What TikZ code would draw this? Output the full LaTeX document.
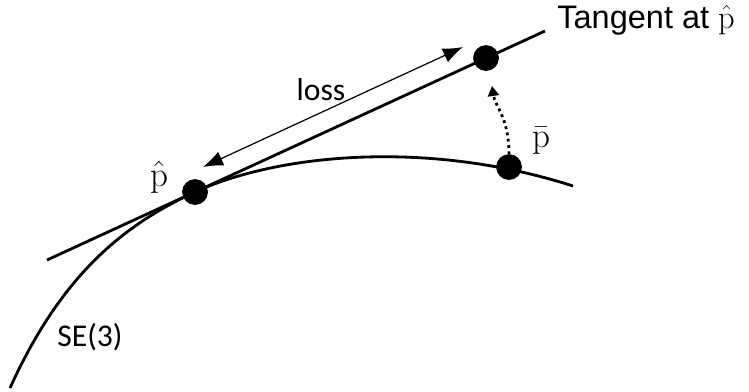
\documentclass[tikz,border=0pt]{standalone}
\usepackage{fontspec}
\newfontfamily\calibri{Carlito}
\newfontfamily\arial{Liberation Sans}
\usetikzlibrary{arrows.meta}

\tikzset{
	dot/.style={draw, circle, fill=black, minimum size=5mm, inner sep=0pt},
	thickline/.style={line width=1.6pt},
	lbl/.style={inner sep=0pt, font=\calibri\fontsize{18}{20}\selectfont},
	plbl/.style={inner sep=0pt, font=\fontsize{20}{22}\selectfont}
}

\begin{document}
\begin{tikzpicture}[x=0.2mm, y=-0.2mm]
		\useasboundingbox (0,0) rectangle (749,391);

		% tangent line and manifold curve
		\coordinate (t1) at (47,260);
		\coordinate (t2) at (545,31);
		\coordinate (c1) at (10,388);
		\coordinate (c2) at (573,186);
		\draw[thickline] (t1) -- (t2);
		\draw[thickline] (c1) .. controls (60,278) and (120,226.5) .. (195,192)
			.. controls (280,153) and (430,140) .. (c2);

		\node[dot] (ph) at (195,192) {};
		\node[dot] (pt) at (486,58) {};
		\node[dot] (pb) at (509,167) {};

		% loss arrow
		\coordinate (l1) at (203,167);
		\coordinate (l2) at (463,47);
		\draw[line width=0.7pt, {Latex[length=4mm,width=3mm]}-{Latex[length=4mm,width=3mm]}] (l1) -- (l2);

		% projection of pbar onto the tangent
		\coordinate (pr) at (492,86);
		\draw[line width=1.6pt, dotted, -{Triangle[length=2mm,width=2.2mm]}] (pb.north) .. controls (509,118) and (495,106) .. (pr);

		\node[lbl] (loss) at (321,90) {loss};
		\node[lbl] (se3) at (90,337) {SE(3)};
		\node[plbl] (phl) at (159,177) {$\hat{\mathrm{p}}$};
		\node[plbl] (pbl) at (541,141) {$\bar{\mathrm{p}}$};
		\node[inner sep=0pt, anchor=base west, font=\arial\fontsize{18.5}{20}\selectfont] (tan) at (557,28) {Tangent at $\hat{\mathrm{p}}$};

	\end{tikzpicture}
\end{document}
